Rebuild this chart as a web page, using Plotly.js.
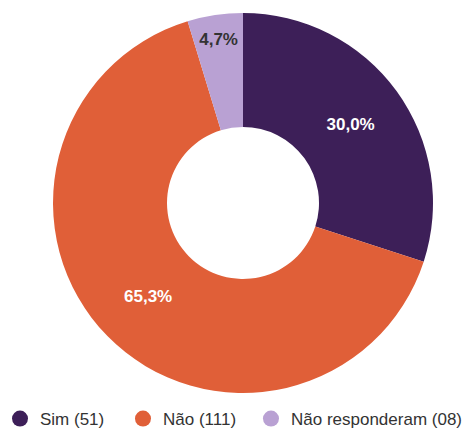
<!DOCTYPE html>
<html>
<head>
<meta charset="utf-8">
<script src="https://cdn.plot.ly/plotly-3.0.1.min.js"></script>
<style>html,body{margin:0;padding:0;background:#fff;}#chart{width:471px;height:437px;}</style>
</head>
<body>
<div id="chart"></div>
<script>
var categories = ['Sim', 'Não', 'Não responderam'];
var counts = [51, 111, 8];
var countLabels = ['51', '111', '08'];
var colors = ['#3d1f58', '#e05f38', '#b9a1d3'];
var textColors = ['#ffffff', '#ffffff', '#333333'];

var traces = [{
  type: 'pie',
  values: counts,
  labels: categories,
  sort: false,
  direction: 'clockwise',
  rotation: 0,
  hole: 0.4,
  marker: {colors: colors, line: {width: 0}},
  texttemplate: '%{percent:.1%}',
  textposition: 'inside',
  insidetextorientation: 'horizontal',
  textfont: {family: 'Liberation Sans, Arial, sans-serif', size: 17, color: textColors, weight: 'bold'},
  showlegend: false,
  domain: {x: [0, 1], y: [0, 1]}
}];

var legendIds = ['legend', 'legend2', 'legend3'];
categories.forEach(function (c, i) {
  traces.push({
    type: 'scatter',
    mode: 'markers',
    x: [null], y: [null],
    name: c + ' (' + countLabels[i] + ')',
    legend: legendIds[i],
    marker: {color: colors[i], size: 18, symbol: 'circle'},
    showlegend: true,
    hoverinfo: 'skip'
  });
});

var legendFont = {family: 'Liberation Sans, Arial, sans-serif', size: 17, color: '#333333'};
function mkLegend(x) {
  return {orientation: 'h', x: x, xanchor: 'left', y: -0.022, yanchor: 'top',
          font: legendFont, bgcolor: 'rgba(0,0,0,0)'};
}

var layout = {
  width: 471, height: 437,
  margin: {l: 15, r: 0, t: 13, b: 36},
  separators: ',.',
  paper_bgcolor: '#ffffff',
  plot_bgcolor: '#ffffff',
  xaxis: {visible: false},
  yaxis: {visible: false},
  showlegend: true,
  legend: mkLegend(-0.0329),
  legend2: mkLegend(0.2368),
  legend3: mkLegend(0.5175),
  font: {family: 'Liberation Sans, Arial, sans-serif'}
};

Plotly.newPlot('chart', traces, layout, {displayModeBar: false, staticPlot: true});
</script>
</body>
</html>
